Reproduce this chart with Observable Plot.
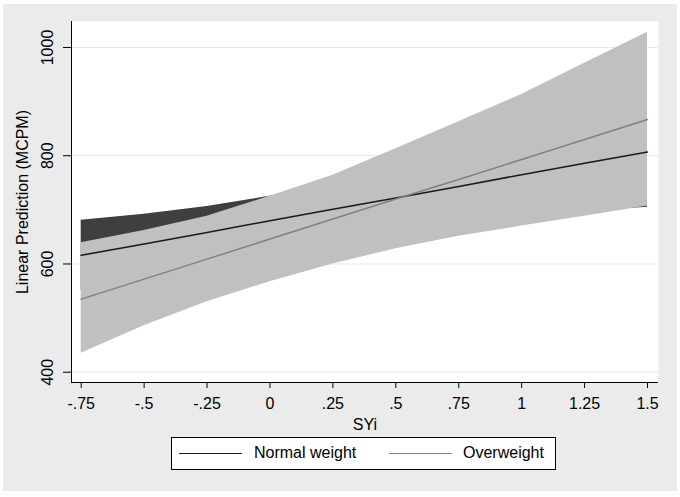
<!DOCTYPE html>
<html>
<head>
<meta charset="utf-8">
<script src="https://cdn.jsdelivr.net/npm/d3@7"></script>
<script src="https://cdn.jsdelivr.net/npm/@observablehq/plot@0.6"></script>
<style>
  html, body { margin: 0; padding: 0; background: #ffffff; width: 680px; height: 497px; overflow: hidden; }
  #bg { position: absolute; left: 3px; top: 4px; width: 674px; height: 487px; background: #ebebeb; }
  #chart { position: absolute; left: 0; top: 0; }
  #legend { position: absolute; left: 171px; top: 437px; width: 383px; height: 31px; background: #fff; border: 1px solid #000;
            font-family: "Liberation Sans", Arial, sans-serif; font-size: 16px; color: #000; }
  #legend .ln { position: absolute; top: 15px; height: 0; }
  #legend .tx { position: absolute; top: 6px; line-height: 18px; white-space: nowrap; }
</style>
</head>
<body>
<div id="bg"></div>
<div id="chart"></div>
<div id="legend">
  <div class="ln" style="left:7px;width:63px;border-top:1.5px solid #1a1a1a;"></div>
  <div class="tx" style="left:82px;">Normal weight</div>
  <div class="ln" style="left:217px;width:63px;border-top:1.5px solid #808080;"></div>
  <div class="tx" style="left:291px;">Overweight</div>
</div>
<script>
// Data
const syi = [-0.75, -0.5, -0.25, 0, 0.25, 0.5, 0.75, 1, 1.25, 1.5];

const normalFit = [616, 637, 658, 680, 701, 722, 743, 765, 786, 807];
const normalLo  = [551, 582, 610, 635, 653, 668, 679, 689, 697, 705];
const normalHi  = [681, 692, 706, 725, 749, 776, 807, 841, 875, 909];

const overFit = [535, 572, 609, 646, 683, 720, 756, 793, 830, 867];
const overLo  = [435, 486, 530, 567, 600, 628, 651, 670, 688, 707];
const overHi  = [639, 662, 688, 725, 764, 813, 863, 913, 971, 1028];

const xTicks = [-0.75, -0.5, -0.25, 0, 0.25, 0.5, 0.75, 1, 1.25, 1.5];
const xTickLabels = ["-.75", "-.5", "-.25", "0", ".25", ".5", ".75", "1", "1.25", "1.5"];
const yTicks = [400, 600, 800, 1000];

const seriesNames = ["Normal weight", "Overweight"];
const yTitle = "Linear Prediction (MCPM)";
const xTitle = "SYi";

const normal = syi.map((x, i) => ({x, fit: normalFit[i], lo: normalLo[i], hi: normalHi[i]}));
const over = syi.map((x, i) => ({x, fit: overFit[i], lo: overLo[i], hi: overHi[i]}));

const xDomain = [-0.7885, 1.5437];
const yDomain = [381, 1048];
const font = "Liberation Sans, Arial, sans-serif";

const chart = Plot.plot({
  width: 680,
  height: 436,
  marginLeft: 71,
  marginRight: 22,
  marginTop: 21,
  marginBottom: 54,
  style: {background: "transparent", fontFamily: font, fontSize: "16px", color: "#000", overflow: "visible"},
  x: {domain: xDomain, axis: null},
  y: {domain: yDomain, axis: null},
  marks: [
    Plot.frame({fill: "#ffffff", stroke: null}),
    Plot.ruleY(yTicks, {stroke: "#e8e8e8", strokeWidth: 1}),
    Plot.areaY(normal, {x: "x", y1: "lo", y2: "hi", fill: "#3f3f3f"}),
    Plot.areaY(over, {x: "x", y1: "lo", y2: "hi", fill: "#c0c0c0"}),
    Plot.line(normal, {x: "x", y: "fit", stroke: "#1a1a1a", strokeWidth: 1.5}),
    Plot.line(over, {x: "x", y: "fit", stroke: "#808080", strokeWidth: 1.5}),
    // axis lines
    Plot.ruleX([xDomain[0]], {stroke: "#000", strokeWidth: 1}),
    Plot.ruleY([yDomain[0]], {stroke: "#000", strokeWidth: 1}),
    // x axis ticks and labels
    Plot.axisX(xTicks, {
      tickSize: 6, tickPadding: 9, fontSize: 16,
      tickFormat: (d) => xTickLabels[xTicks.indexOf(d)],
      label: null
    }),
    // y axis ticks and rotated labels
    Plot.axisY(yTicks, {tickSize: 8, tickFormat: () => "", label: null}),
    Plot.text(yTicks, {y: (d) => d, text: (d) => String(d), frameAnchor: "left", dx: -24,
      rotate: -90, textAnchor: "middle", lineAnchor: "middle", fontSize: 16, fill: "#000"}),
    // axis titles
    Plot.text([yTitle], {frameAnchor: "left", dx: -49, rotate: -90, textAnchor: "middle",
      lineAnchor: "middle", fontSize: 16, fill: "#000"}),
    Plot.text([xTitle], {frameAnchor: "bottom", dy: 42, textAnchor: "middle",
      lineAnchor: "middle", fontSize: 16, fill: "#000"})
  ]
});
document.getElementById("chart").appendChild(chart);
</script>
</body>
</html>
